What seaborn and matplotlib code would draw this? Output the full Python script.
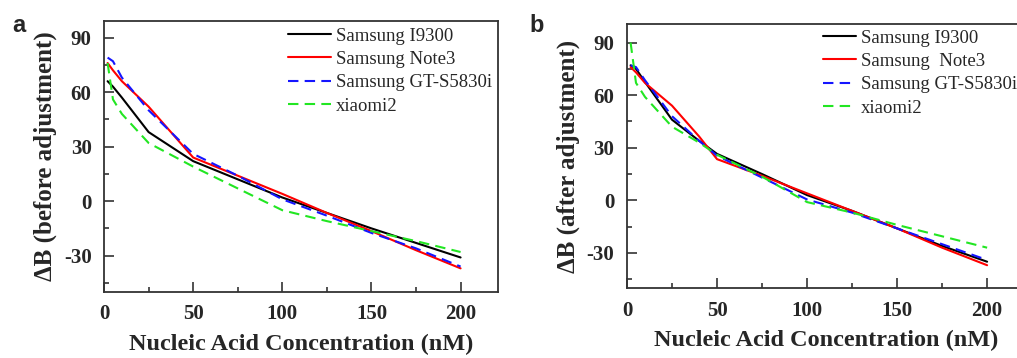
import numpy as np
import pandas as pd
import seaborn as sns
import matplotlib
matplotlib.use("Agg")
import matplotlib.pyplot as plt
from matplotlib.ticker import MultipleLocator

# ---------------- data ----------------
labels_a = ["Samsung I9300", "Samsung Note3", "Samsung GT-S5830i", "xiaomi2"]
labels_b = ["Samsung I9300", "Samsung  Note3", "Samsung GT-S5830i", "xiaomi2"]

conc_a = [2, 5, 10, 25, 50, 75, 100, 125, 150, 175, 200]
i9300_a = [66, 63, 57, 38, 22, 12, 2, -6.5, -15, -23, -31]
note3_a = [76, 72, 66, 52, 24, 14, 4, -6.5, -16.5, -27, -37]
s5830_a = [79, 77, 68, 50, 26, 14, 1, -8, -17.5, -26, -36]
xiaomi_a = [76, 56, 48, 32, 19, 7, -5, -11, -16.5, -22, -28]

conc_b = [2, 5, 10, 25, 40, 50, 75, 100, 125, 150, 175, 200]
i9300_b = [77, 75, 67.5, 46, 34, 26.5, 15, 3, -6, -16, -26, -35]
note3_b = [76, 73, 67, 54, 36.5, 23.5, 14, 4, -6, -16, -27, -37]
s5830_b = [77, 76, 68.5, 48, 34, 25.5, 13, 0.5, -7, -16, -25, -34]
xiaomi_b = [90, 67, 59, 42, 33, 26, 13.5, -1, -7, -14, -20.5, -27]

ylabel_a = "ΔB (before adjustment)"
ylabel_b = "ΔB (after adjustment)"
xlabel = "Nucleic Acid Concentration (nM)"

colors = ["#000000", "#ff0000", "#1515ff", "#22e622"]
dash_styles = ["", "", (5, 3), (5, 3)]

sns.set_style("ticks")
plt.rcParams["font.family"] = ["Liberation Serif", "DejaVu Serif"]
plt.rcParams["axes.edgecolor"] = "#333333"
plt.rcParams["axes.unicode_minus"] = False

fig = plt.figure(figsize=(10.17, 3.58), dpi=100)
ax_a = fig.add_axes([0.1023, 0.1844, 0.3874, 0.7578])
ax_b = fig.add_axes([0.6165, 0.1955, 0.3913, 0.7366])


def long_df(conc, series, labels):
    frames = []
    for vals, lab in zip(series, labels):
        frames.append(pd.DataFrame({"conc": conc, "dB": vals, "device": lab}))
    return pd.concat(frames, ignore_index=True)


def draw(ax, conc, series, labels, ylabel, ylim, leg_x, leg_y, handlelen):
    df = long_df(conc, series, labels)
    sns.lineplot(data=df, x="conc", y="dB", hue="device", style="device",
                 hue_order=labels, style_order=labels,
                 palette=dict(zip(labels, colors)),
                 dashes=dict(zip(labels, dash_styles)),
                 estimator=None, sort=False, linewidth=1.5, ax=ax, legend=False)
    ax.set_xlim(0, 221)
    ax.set_ylim(*ylim)
    ax.xaxis.set_major_locator(MultipleLocator(50))
    ax.xaxis.set_minor_locator(MultipleLocator(25))
    ax.yaxis.set_major_locator(MultipleLocator(30))
    ax.yaxis.set_minor_locator(MultipleLocator(15))
    ax.tick_params(which="both", direction="in", top=False, right=False,
                   color="#333333", width=1.2)
    ax.tick_params(which="major", length=7, pad=9, labelsize=15)
    ax.tick_params(which="minor", length=3.6)
    for lab in ax.get_xticklabels() + ax.get_yticklabels():
        lab.set_fontweight("bold")
    for sp in ax.spines.values():
        sp.set_visible(True)
        sp.set_linewidth(1.3)
    ax.set_xlabel(xlabel, fontsize=17.5, fontweight="bold", labelpad=7)
    ax.set_ylabel(ylabel, fontsize=18, fontweight="bold", labelpad=5)
    lines = ax.get_lines()[:len(labels)]
    ax.legend(lines, labels, loc="upper left", bbox_to_anchor=(leg_x, leg_y),
              frameon=False, fontsize=13.5, borderpad=0, borderaxespad=0,
              handlelength=handlelen, handletextpad=0.25, labelspacing=0.33)


draw(ax_a, conc_a, [i9300_a, note3_a, s5830_a, xiaomi_a], labels_a, ylabel_a, (-50, 99.3), 0.467, 0.975, 2.3)
draw(ax_b, conc_b, [i9300_b, note3_b, s5830_b, xiaomi_b], labels_b, ylabel_b, (-50, 100.4), 0.493, 0.98, 1.75)

fig.text(0.012, 0.93, "a", fontsize=17, fontweight="bold", family="Liberation Sans", va="center")
fig.text(0.521, 0.93, "b", fontsize=17, fontweight="bold", family="Liberation Sans", va="center")

fig.savefig("out.png", dpi=100)
